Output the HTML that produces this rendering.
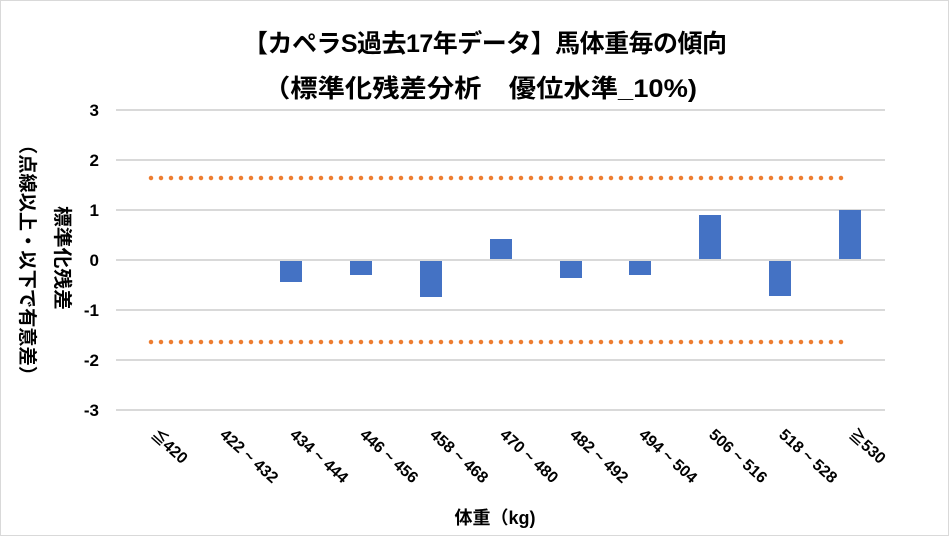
<!DOCTYPE html>
<html><head><meta charset="utf-8"><style>
html,body{margin:0;padding:0;background:#fff}
svg{display:block}
text{font-family:"Liberation Sans","Noto Sans CJK JP",sans-serif;font-weight:bold;fill:#000}
</style></head><body>
<svg width="949" height="536" viewBox="0 0 949 536" xmlns="http://www.w3.org/2000/svg">
<rect x="0.5" y="0.5" width="948" height="535" fill="#fff" stroke="#d9d9d9"/>
<text x="485" y="52" font-size="25" text-anchor="middle" textLength="484">【カペラS過去17年データ】馬体重毎の傾向</text>
<text x="480" y="97" font-size="25" text-anchor="middle" textLength="434" lengthAdjust="spacingAndGlyphs">（標準化残差分析　優位水準_10%)</text>
<g stroke="#d9d9d9" stroke-width="2">
<line x1="116" x2="885" y1="110" y2="110"/><line x1="116" x2="885" y1="160" y2="160"/>
<line x1="116" x2="885" y1="210" y2="210"/><line x1="116" x2="885" y1="260" y2="260"/>
<line x1="116" x2="885" y1="310" y2="310"/><line x1="116" x2="885" y1="360" y2="360"/>
<line x1="116" x2="885" y1="410" y2="410"/>
</g>
<g font-size="17" text-anchor="end">
<text x="99" y="116">3</text><text x="99" y="166">2</text><text x="99" y="216">1</text>
<text x="99" y="266">0</text><text x="99" y="316">-1</text><text x="99" y="366">-2</text><text x="99" y="416">-3</text>
</g>
<g fill="#4472c4">
<rect x="280" y="261" width="22" height="21"/>
<rect x="350" y="261" width="22" height="14"/>
<rect x="420" y="261" width="22" height="36"/>
<rect x="490" y="239" width="22" height="20"/>
<rect x="560" y="261" width="22" height="17"/>
<rect x="629" y="261" width="22" height="14"/>
<rect x="699" y="215" width="22" height="44"/>
<rect x="769" y="261" width="22" height="35"/>
<rect x="839" y="210" width="22" height="49"/>
</g>
<g stroke="#ed7d31" stroke-width="4.5" stroke-linecap="round" stroke-dasharray="0 10">
<line x1="151" x2="846" y1="178" y2="178"/>
<line x1="151" x2="846" y1="342" y2="342"/>
</g>
<g font-size="16" font-weight="normal">
<text transform="translate(150,436) rotate(42)">≦420</text>
<text transform="translate(219,436) rotate(42)">422 ~ 432</text>
<text transform="translate(289,436) rotate(42)">434 ~ 444</text>
<text transform="translate(359,436) rotate(42)">446 ~ 456</text>
<text transform="translate(429,436) rotate(42)">458 ~ 468</text>
<text transform="translate(499,436) rotate(42)">470 ~ 480</text>
<text transform="translate(569,436) rotate(42)">482 ~ 492</text>
<text transform="translate(638,436) rotate(42)">494 ~ 504</text>
<text transform="translate(708,436) rotate(42)">506 ~ 516</text>
<text transform="translate(778,436) rotate(42)">518 ~ 528</text>
<text transform="translate(848,436) rotate(42)">≧530</text>
</g>
<text x="495" y="524" font-size="18" text-anchor="middle">体重（kg)</text>
<text transform="translate(56,258) rotate(90)" font-size="19" text-anchor="middle" textLength="104" lengthAdjust="spacingAndGlyphs">標準化残差</text>
<text transform="translate(21,260) rotate(90)" font-size="19" text-anchor="middle" textLength="250" lengthAdjust="spacingAndGlyphs">（点線以上・以下で有意差）</text>
</svg>
</body></html>
